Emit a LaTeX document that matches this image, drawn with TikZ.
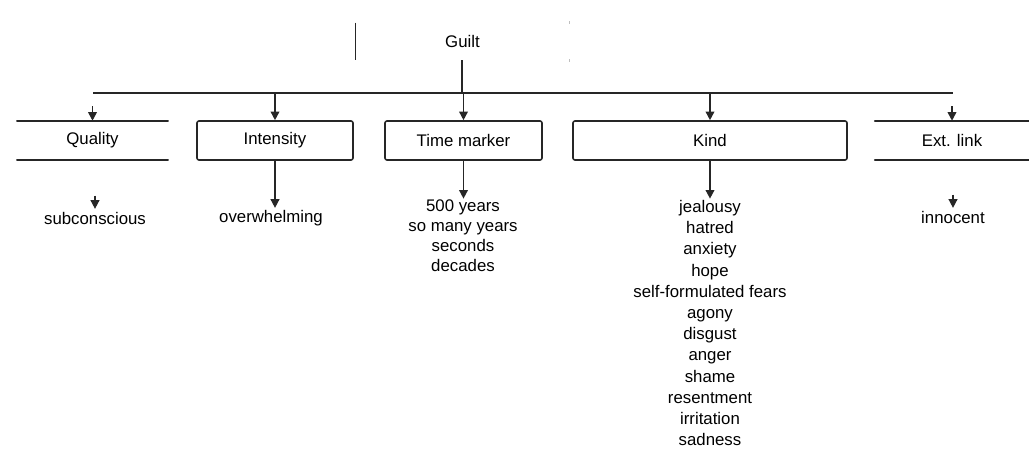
\documentclass[tikz,border=0pt]{standalone}
\usepackage{fontspec}
\setmainfont{Liberation Sans}
\usetikzlibrary{arrows.meta}
\begin{document}
\begin{tikzpicture}[x=0.75pt,y=-0.75pt,
  every node/.style={font=\fontsize{12.6pt}{15.4pt}\selectfont, inner sep=0pt},
  line/.style={line width=1.2pt, draw=black!85},
  arr/.style={line, -{Triangle[length=6.5pt,width=6.5pt]}},
  box/.style={line, draw, rounded corners=1.5pt, minimum height=29.25pt},
  openbox/.style={minimum height=29.25pt},
  lbl/.style={align=center, anchor=north}]
\useasboundingbox (0,0) rectangle (1029,460);
% root
\node[minimum width=160pt, minimum height=28pt] (root) at (462.5,41.5) {Guilt};
\draw[line] (root.north west) -- (root.south west);
\draw[line, draw=black!25, line width=0.8pt] ([yshift=-1pt]root.north east) -- ++(0,-3);
\draw[line, draw=black!25, line width=0.8pt] ([yshift=1pt]root.south east) -- ++(0,3);
% bus
\coordinate (busL) at (93,93);
\coordinate (busR) at (953,93);
\coordinate (busM) at (462,93);
\draw[line] (busL) -- (busR);
\draw[line] (root.south -| busM) -- (busM);
% category boxes
\node[openbox, minimum width=113pt] (q) at (92.5,140.5) {Quality};
\draw[line, line cap=round] (q.north west) -- (q.north east);
\draw[line, line cap=round] (q.south west) -- (q.south east);
\node[box, minimum width=117pt] (in) at (275,140.5) {Intensity};
\node[box, minimum width=117.75pt] (tm) at (463.5,140.5) {Time marker};
\node[box, minimum width=205.5pt] (kd) at (710,140.5) {Kind};
\node[openbox, minimum width=115.5pt] (el) at (952,140.5) {Ext. link};
\draw[line, line cap=round] (el.north west) -- (el.north east);
\draw[line, line cap=round] (el.south west) -- (el.south east);
% arrows from bus
\draw[arr] ([yshift=11pt]q.north) -- (q.north);
\draw[arr] (in.north |- busM) -- (in.north);
\draw[arr] (tm.north |- busM) -- (tm.north);
\draw[arr] (kd.north |- busM) -- (kd.north);
\draw[arr] ([yshift=11pt]el.north) -- (el.north);
% value labels
\node (lq) at (95,218) {subconscious};
\node (lin) at (271,218) {overwhelming};
\node[lbl, font=\fontsize{12.6pt}{15pt}\selectfont] (ltm) at (463,200) {500 years\\so many years\\seconds\\decades};
\node[lbl, font=\fontsize{12.6pt}{15.9pt}\selectfont] (lkd) at (710,200) {jealousy\\hatred\\anxiety\\hope\\self-formulated fears\\agony\\disgust\\anger\\shame\\resentment\\irritation\\sadness};
\node (lel) at (953,217) {innocent};
% arrows to labels
\draw[arr] ([yshift=12pt]lq.north) -- ([yshift=2pt]lq.north);
\draw[arr] (in.south) -- ([yshift=1.5pt]lin.north -| in.south);
\draw[arr] (tm.south) -- ([yshift=1pt]ltm.north -| tm.south);
\draw[arr] (kd.south) -- ([yshift=1pt]lkd.north -| kd.south);
\draw[arr] ([yshift=12pt]lel.north) -- ([yshift=2pt]lel.north);
\end{tikzpicture}
\end{document}
